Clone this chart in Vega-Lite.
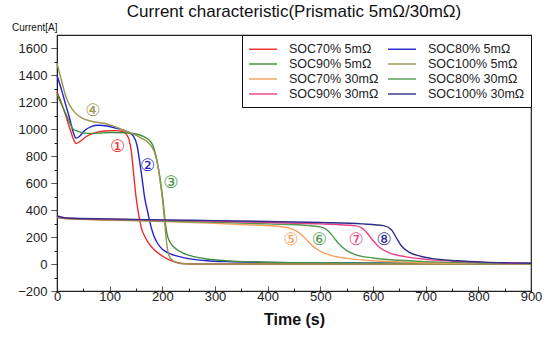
{
  "$schema": "https://vega.github.io/schema/vega-lite/v6.json",
  "width": 474,
  "height": 256,
  "autosize": "none",
  "padding": {"left": 57, "top": 35, "right": 19, "bottom": 52},
  "background": "white",
  "config": {
    "font": "Liberation Sans",
    "view": {"stroke": "#222", "strokeWidth": 1.2},
    "axis": {"domainColor": "#222", "tickColor": "#222", "labelColor": "#222", "titleColor": "#111", "grid": false, "labelFont": "Liberation Sans", "titleFont": "Liberation Sans", "labelOverlap": false}
  },
  "title": {"text": "Current characteristic(Prismatic 5mΩ/30mΩ)", "fontSize": 17, "fontWeight": "normal", "font": "Liberation Sans", "color": "#111", "anchor": "middle", "offset": 1},
  "datasets": {
    "curves": [
      {"s":"SOC70% 5mΩ","t":0,"i":1280},{"s":"SOC70% 5mΩ","t":8,"i":1200},{"s":"SOC70% 5mΩ","t":16,"i":1110},{"s":"SOC70% 5mΩ","t":24,"i":1010},{"s":"SOC70% 5mΩ","t":30,"i":940},{"s":"SOC70% 5mΩ","t":36,"i":895},{"s":"SOC70% 5mΩ","t":42,"i":905},{"s":"SOC70% 5mΩ","t":55,"i":945},{"s":"SOC70% 5mΩ","t":70,"i":972},{"s":"SOC70% 5mΩ","t":90,"i":988},{"s":"SOC70% 5mΩ","t":110,"i":990},{"s":"SOC70% 5mΩ","t":125,"i":982},{"s":"SOC70% 5mΩ","t":132,"i":962},{"s":"SOC70% 5mΩ","t":137,"i":920},{"s":"SOC70% 5mΩ","t":141,"i":840},{"s":"SOC70% 5mΩ","t":145,"i":690},{"s":"SOC70% 5mΩ","t":150,"i":500},{"s":"SOC70% 5mΩ","t":155,"i":370},{"s":"SOC70% 5mΩ","t":160,"i":270},{"s":"SOC70% 5mΩ","t":166,"i":210},{"s":"SOC70% 5mΩ","t":175,"i":150},{"s":"SOC70% 5mΩ","t":185,"i":105},{"s":"SOC70% 5mΩ","t":200,"i":60},{"s":"SOC70% 5mΩ","t":215,"i":28},{"s":"SOC70% 5mΩ","t":230,"i":10},{"s":"SOC70% 5mΩ","t":245,"i":2},{"s":"SOC70% 5mΩ","t":260,"i":0},{"s":"SOC70% 5mΩ","t":500,"i":0},{"s":"SOC70% 5mΩ","t":900,"i":0},

      {"s":"SOC80% 5mΩ","t":0,"i":1400},{"s":"SOC80% 5mΩ","t":8,"i":1300},{"s":"SOC80% 5mΩ","t":16,"i":1190},{"s":"SOC80% 5mΩ","t":24,"i":1080},{"s":"SOC80% 5mΩ","t":30,"i":990},{"s":"SOC80% 5mΩ","t":36,"i":935},{"s":"SOC80% 5mΩ","t":42,"i":945},{"s":"SOC80% 5mΩ","t":52,"i":990},{"s":"SOC80% 5mΩ","t":65,"i":1020},{"s":"SOC80% 5mΩ","t":78,"i":1030},{"s":"SOC80% 5mΩ","t":95,"i":1025},{"s":"SOC80% 5mΩ","t":115,"i":1005},{"s":"SOC80% 5mΩ","t":135,"i":980},{"s":"SOC80% 5mΩ","t":145,"i":950},{"s":"SOC80% 5mΩ","t":152,"i":880},{"s":"SOC80% 5mΩ","t":157,"i":760},{"s":"SOC80% 5mΩ","t":161,"i":650},{"s":"SOC80% 5mΩ","t":167,"i":480},{"s":"SOC80% 5mΩ","t":172,"i":390},{"s":"SOC80% 5mΩ","t":177,"i":300},{"s":"SOC80% 5mΩ","t":183,"i":220},{"s":"SOC80% 5mΩ","t":190,"i":160},{"s":"SOC80% 5mΩ","t":200,"i":110},{"s":"SOC80% 5mΩ","t":210,"i":85},{"s":"SOC80% 5mΩ","t":225,"i":62},{"s":"SOC80% 5mΩ","t":240,"i":48},{"s":"SOC80% 5mΩ","t":260,"i":35},{"s":"SOC80% 5mΩ","t":285,"i":25},{"s":"SOC80% 5mΩ","t":320,"i":18},{"s":"SOC80% 5mΩ","t":400,"i":12},{"s":"SOC80% 5mΩ","t":500,"i":9},{"s":"SOC80% 5mΩ","t":700,"i":6},{"s":"SOC80% 5mΩ","t":900,"i":4},

      {"s":"SOC90% 5mΩ","t":0,"i":1265},{"s":"SOC90% 5mΩ","t":8,"i":1190},{"s":"SOC90% 5mΩ","t":16,"i":1120},{"s":"SOC90% 5mΩ","t":24,"i":1050},{"s":"SOC90% 5mΩ","t":30,"i":1005},{"s":"SOC90% 5mΩ","t":40,"i":985},{"s":"SOC90% 5mΩ","t":58,"i":970},{"s":"SOC90% 5mΩ","t":80,"i":972},{"s":"SOC90% 5mΩ","t":100,"i":976},{"s":"SOC90% 5mΩ","t":130,"i":975},{"s":"SOC90% 5mΩ","t":150,"i":965},{"s":"SOC90% 5mΩ","t":165,"i":945},{"s":"SOC90% 5mΩ","t":175,"i":920},{"s":"SOC90% 5mΩ","t":182,"i":880},{"s":"SOC90% 5mΩ","t":188,"i":800},{"s":"SOC90% 5mΩ","t":193,"i":700},{"s":"SOC90% 5mΩ","t":197,"i":600},{"s":"SOC90% 5mΩ","t":201,"i":480},{"s":"SOC90% 5mΩ","t":205,"i":330},{"s":"SOC90% 5mΩ","t":209,"i":220},{"s":"SOC90% 5mΩ","t":215,"i":160},{"s":"SOC90% 5mΩ","t":225,"i":115},{"s":"SOC90% 5mΩ","t":240,"i":80},{"s":"SOC90% 5mΩ","t":260,"i":55},{"s":"SOC90% 5mΩ","t":285,"i":38},{"s":"SOC90% 5mΩ","t":320,"i":25},{"s":"SOC90% 5mΩ","t":380,"i":15},{"s":"SOC90% 5mΩ","t":450,"i":10},{"s":"SOC90% 5mΩ","t":600,"i":6},{"s":"SOC90% 5mΩ","t":900,"i":3},

      {"s":"SOC100% 5mΩ","t":0,"i":1490},{"s":"SOC100% 5mΩ","t":6,"i":1400},{"s":"SOC100% 5mΩ","t":12,"i":1310},{"s":"SOC100% 5mΩ","t":18,"i":1230},{"s":"SOC100% 5mΩ","t":24,"i":1180},{"s":"SOC100% 5mΩ","t":35,"i":1120},{"s":"SOC100% 5mΩ","t":47,"i":1085},{"s":"SOC100% 5mΩ","t":65,"i":1060},{"s":"SOC100% 5mΩ","t":91,"i":1043},{"s":"SOC100% 5mΩ","t":110,"i":1020},{"s":"SOC100% 5mΩ","t":125,"i":995},{"s":"SOC100% 5mΩ","t":142,"i":970},{"s":"SOC100% 5mΩ","t":160,"i":935},{"s":"SOC100% 5mΩ","t":172,"i":905},{"s":"SOC100% 5mΩ","t":180,"i":870},{"s":"SOC100% 5mΩ","t":186,"i":820},{"s":"SOC100% 5mΩ","t":191,"i":740},{"s":"SOC100% 5mΩ","t":195,"i":640},{"s":"SOC100% 5mΩ","t":199,"i":520},{"s":"SOC100% 5mΩ","t":203,"i":380},{"s":"SOC100% 5mΩ","t":206,"i":240},{"s":"SOC100% 5mΩ","t":209,"i":130},{"s":"SOC100% 5mΩ","t":213,"i":60},{"s":"SOC100% 5mΩ","t":220,"i":25},{"s":"SOC100% 5mΩ","t":230,"i":8},{"s":"SOC100% 5mΩ","t":245,"i":2},{"s":"SOC100% 5mΩ","t":260,"i":0},{"s":"SOC100% 5mΩ","t":500,"i":0},{"s":"SOC100% 5mΩ","t":900,"i":0},

      {"s":"SOC70% 30mΩ","t":0,"i":345},{"s":"SOC70% 30mΩ","t":20,"i":335},{"s":"SOC70% 30mΩ","t":100,"i":325},{"s":"SOC70% 30mΩ","t":200,"i":315},{"s":"SOC70% 30mΩ","t":300,"i":302},{"s":"SOC70% 30mΩ","t":370,"i":290},{"s":"SOC70% 30mΩ","t":420,"i":280},{"s":"SOC70% 30mΩ","t":440,"i":268},{"s":"SOC70% 30mΩ","t":455,"i":245},{"s":"SOC70% 30mΩ","t":465,"i":215},{"s":"SOC70% 30mΩ","t":475,"i":175},{"s":"SOC70% 30mΩ","t":485,"i":135},{"s":"SOC70% 30mΩ","t":500,"i":95},{"s":"SOC70% 30mΩ","t":520,"i":65},{"s":"SOC70% 30mΩ","t":550,"i":42},{"s":"SOC70% 30mΩ","t":600,"i":25},{"s":"SOC70% 30mΩ","t":650,"i":16},{"s":"SOC70% 30mΩ","t":700,"i":10},{"s":"SOC70% 30mΩ","t":800,"i":5},{"s":"SOC70% 30mΩ","t":900,"i":3},

      {"s":"SOC80% 30mΩ","t":0,"i":345},{"s":"SOC80% 30mΩ","t":20,"i":337},{"s":"SOC80% 30mΩ","t":100,"i":328},{"s":"SOC80% 30mΩ","t":200,"i":320},{"s":"SOC80% 30mΩ","t":300,"i":310},{"s":"SOC80% 30mΩ","t":400,"i":298},{"s":"SOC80% 30mΩ","t":480,"i":285},{"s":"SOC80% 30mΩ","t":505,"i":270},{"s":"SOC80% 30mΩ","t":515,"i":245},{"s":"SOC80% 30mΩ","t":525,"i":200},{"s":"SOC80% 30mΩ","t":535,"i":150},{"s":"SOC80% 30mΩ","t":548,"i":105},{"s":"SOC80% 30mΩ","t":565,"i":72},{"s":"SOC80% 30mΩ","t":600,"i":45},{"s":"SOC80% 30mΩ","t":650,"i":28},{"s":"SOC80% 30mΩ","t":700,"i":18},{"s":"SOC80% 30mΩ","t":800,"i":8},{"s":"SOC80% 30mΩ","t":900,"i":4},

      {"s":"SOC90% 30mΩ","t":0,"i":350},{"s":"SOC90% 30mΩ","t":20,"i":340},{"s":"SOC90% 30mΩ","t":100,"i":332},{"s":"SOC90% 30mΩ","t":200,"i":325},{"s":"SOC90% 30mΩ","t":300,"i":318},{"s":"SOC90% 30mΩ","t":400,"i":308},{"s":"SOC90% 30mΩ","t":500,"i":298},{"s":"SOC90% 30mΩ","t":565,"i":285},{"s":"SOC90% 30mΩ","t":580,"i":265},{"s":"SOC90% 30mΩ","t":590,"i":225},{"s":"SOC90% 30mΩ","t":600,"i":175},{"s":"SOC90% 30mΩ","t":612,"i":125},{"s":"SOC90% 30mΩ","t":630,"i":85},{"s":"SOC90% 30mΩ","t":660,"i":55},{"s":"SOC90% 30mΩ","t":700,"i":35},{"s":"SOC90% 30mΩ","t":750,"i":22},{"s":"SOC90% 30mΩ","t":800,"i":14},{"s":"SOC90% 30mΩ","t":900,"i":5},

      {"s":"SOC100% 30mΩ","t":0,"i":358},{"s":"SOC100% 30mΩ","t":20,"i":342},{"s":"SOC100% 30mΩ","t":100,"i":335},{"s":"SOC100% 30mΩ","t":200,"i":328},{"s":"SOC100% 30mΩ","t":300,"i":322},{"s":"SOC100% 30mΩ","t":400,"i":316},{"s":"SOC100% 30mΩ","t":500,"i":308},{"s":"SOC100% 30mΩ","t":580,"i":298},{"s":"SOC100% 30mΩ","t":620,"i":285},{"s":"SOC100% 30mΩ","t":635,"i":255},{"s":"SOC100% 30mΩ","t":645,"i":190},{"s":"SOC100% 30mΩ","t":655,"i":130},{"s":"SOC100% 30mΩ","t":670,"i":85},{"s":"SOC100% 30mΩ","t":690,"i":58},{"s":"SOC100% 30mΩ","t":710,"i":42},{"s":"SOC100% 30mΩ","t":760,"i":24},{"s":"SOC100% 30mΩ","t":810,"i":14},{"s":"SOC100% 30mΩ","t":860,"i":9},{"s":"SOC100% 30mΩ","t":900,"i":6}
    ],
    "notes": [
      {"s":"SOC70% 5mΩ","t":115,"i":866,"lab":"①"},
      {"s":"SOC80% 5mΩ","t":172,"i":726,"lab":"②"},
      {"s":"SOC90% 5mΩ","t":216,"i":600,"lab":"③"},
      {"s":"SOC100% 5mΩ","t":68,"i":1133,"lab":"④"},
      {"s":"SOC70% 30mΩ","t":444,"i":178,"lab":"⑤"},
      {"s":"SOC80% 30mΩ","t":498,"i":178,"lab":"⑥"},
      {"s":"SOC90% 30mΩ","t":568,"i":178,"lab":"⑦"},
      {"s":"SOC100% 30mΩ","t":621,"i":178,"lab":"⑧"}
    ]
  },
  "layer": [
    {
      "data": {"name": "curves"},
      "mark": {"type": "line", "interpolate": "monotone", "strokeWidth": 1.4},
      "encoding": {
        "x": {"field": "t", "type": "quantitative", "scale": {"domain": [0, 900], "nice": false},
          "axis": {"title": "Time (s)", "titleFontSize": 16, "titleFontWeight": "bold", "titlePadding": 8,
            "values": [0,50,100,150,200,250,300,350,400,450,500,550,600,650,700,750,800,850,900], "tickCount": 100,
            "labelOpacity": {"condition": {"test": "datum.value % 100 !== 0", "value": 0}, "value": 1}, "labelOverlap": false,
            "tickSize": -5, "tickDash": {"condition": {"test": "datum.value % 100 !== 0", "value": [3, 10]}, "value": [1, 0]},
            "labelPadding": 4, "labelFontSize": 13, "labelFlush": false}},
        "y": {"field": "i", "type": "quantitative", "scale": {"domain": [-200, 1700], "nice": false, "zero": false},
          "axis": {"title": "Current[A]", "titleAngle": 0, "titleAlign": "right", "titleBaseline": "middle", "titleX": 0, "titleY": -8, "titleFontSize": 10, "titleFontWeight": "normal",
            "values": [-200,-100,0,100,200,300,400,500,600,700,800,900,1000,1100,1200,1300,1400,1500,1600], "tickCount": 100,
            "labelOpacity": {"condition": {"test": "datum.value % 200 !== 0", "value": 0}, "value": 1}, "labelOverlap": false, "labelFlush": false,
            "tickSize": 6, "tickDash": {"condition": {"test": "datum.value % 200 !== 0", "value": [3, 10]}, "value": [1, 0]},
            "labelPadding": 4, "labelFontSize": 13, "format": "d"}},
        "color": {"field": "s", "type": "nominal",
          "scale": {"domain": ["SOC70% 5mΩ","SOC80% 5mΩ","SOC90% 5mΩ","SOC100% 5mΩ","SOC70% 30mΩ","SOC80% 30mΩ","SOC90% 30mΩ","SOC100% 30mΩ"],
            "range": ["#ee2a2a","#2222cc","#3d8f3d","#9c9250","#f5a05a","#4f9a4f","#e8408a","#2e2e8a"]},
          "legend": {"title": null, "orient": "top-right", "offset": 0, "columns": 2, "direction": "horizontal",
            "symbolType": "M-2,0H2", "symbolSize": 196, "symbolStrokeWidth": 1.4, "symbolOffset": 7, "labelFontSize": 12.5, "labelColor": "#222", "labelFont": "Liberation Sans",
            "labelOffset": 18, "columnPadding": 6, "rowPadding": -3, "padding": 6, "strokeColor": "#111", "fillColor": "white", "labelLimit": 200}},
        "detail": {"field": "s"}
      }
    },
    {
      "data": {"name": "notes"},
      "mark": {"type": "text", "fontSize": 17, "font": "DejaVu Sans", "align": "center", "baseline": "middle"},
      "encoding": {
        "x": {"field": "t", "type": "quantitative"},
        "y": {"field": "i", "type": "quantitative"},
        "text": {"field": "lab"},
        "color": {"field": "s", "type": "nominal"}
      }
    }
  ]
}
